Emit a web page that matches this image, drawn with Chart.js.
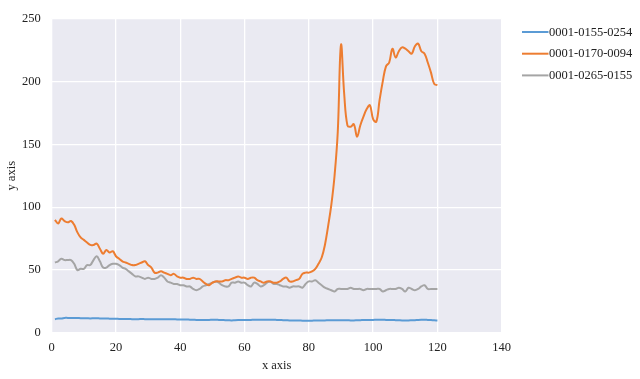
<!DOCTYPE html>
<html>
<head>
<meta charset="utf-8">
<script src="https://cdn.jsdelivr.net/npm/chart.js@4.4.0/dist/chart.umd.min.js"></script>
<style>
  html, body { margin: 0; padding: 0; background: #fff; }
  #wrap { width: 640px; height: 379px; }
</style>
</head>
<body>
<div id="wrap"><canvas id="chart"></canvas></div>
<script>
// --- data ---
const seriesNames = ['0001-0155-0254', '0001-0170-0094', '0001-0265-0155'];
const seriesColors = ['#5B9BD5', '#ED7D31', '#A5A5A5'];

const xValues = Array.from({ length: 120 }, (_, i) => i + 1);

const blueValues = [
  11, 11.5, 11.5, 12, 12, 12, 12, 12, 11.8, 11.8, 11.7, 11.6, 11.7, 11.8, 11.6, 11.5, 11.5, 11.4, 11.3, 11.3,
  11.2, 11.2, 11.1, 11.1, 11.0, 11.0, 11.0, 11.1, 11.0, 11.0, 10.9, 10.9, 11.0, 11.0, 11.0, 11.0, 10.9, 10.9, 10.8, 10.8,
  10.8, 10.7, 10.6, 10.5, 10.4, 10.3, 10.3, 10.4, 10.4, 10.5, 10.5, 10.4, 10.3, 10.2, 10.1, 10.0, 10.2, 10.3, 10.3, 10.3,
  10.3, 10.4, 10.5, 10.5, 10.5, 10.6, 10.6, 10.5, 10.5, 10.4, 10.3, 10.2, 10.1, 10.0, 10.0, 9.9, 9.9, 9.8, 9.8, 9.8,
  9.8, 9.9, 9.9, 10.0, 10.0, 10.1, 10.1, 10.2, 10.2, 10.2, 10.1, 10.1, 10.0, 10.0, 10.1, 10.2, 10.3, 10.4, 10.4, 10.4,
  10.5, 10.5, 10.5, 10.4, 10.3, 10.3, 10.2, 10.1, 10.0, 10.0, 10.0, 10.1, 10.2, 10.4, 10.5, 10.5, 10.4, 10.3, 10.1, 10.0
];

const orangeValues = [
  90, 87, 91, 89, 88, 89, 86, 80, 76, 74, 72, 70, 70, 71, 67, 63, 66, 64, 65, 61,
  59, 57, 56, 55, 54, 54, 55, 56, 57, 54, 52, 48, 48, 49, 48, 47, 46, 47, 45, 44,
  44, 43, 43, 44, 43, 43, 41, 39, 38, 40, 41, 41, 41, 42, 42, 43, 44, 45, 44, 44,
  43, 44, 44, 42, 41, 40, 41, 41, 40, 40, 41, 43, 44, 41, 41, 42, 43, 47, 48, 48,
  49, 51, 55, 60, 70, 85, 102, 125, 160, 229, 190, 165, 164, 166, 156, 165, 172, 178, 181, 170,
  168, 185, 200, 212, 215, 226, 219, 224, 227, 226, 224, 222, 228, 230, 224, 222, 215, 207, 198, 197
];

const grayValues = [
  56, 57, 59, 58, 58, 58, 55, 50, 51, 51, 54, 54, 58, 61, 57, 52, 52, 54, 55, 55,
  54, 52, 51, 49, 47, 45, 45, 44, 43, 44, 43, 43, 44, 46, 44, 41, 40, 39, 39, 38,
  38, 37, 37, 35, 34, 35, 37, 38, 39, 40, 41, 40, 38, 37, 37, 40, 40, 41, 40, 40,
  38, 37, 40, 39, 37, 38, 40, 41, 39, 39, 38, 37, 37, 36, 37, 37, 37, 36, 39, 41,
  41, 42, 40, 38, 36, 35, 34, 33, 35, 35, 35, 35, 36, 35, 35, 35, 34, 35, 35, 35,
  35, 35, 33, 34, 35, 35, 35, 36, 35, 33, 36, 35, 34, 35, 37, 38, 35, 35, 35, 35
];

const xTicks = { min: 0, max: 140, step: 20 };
const yTicks = { min: 0, max: 250, step: 50 };

const allValues = [blueValues, orangeValues, grayValues];

// --- plugins ---
const plotBackground = {
  id: 'plotBackground',
  beforeDraw(chart) {
    const { ctx, chartArea: a } = chart;
    ctx.save();
    ctx.fillStyle = '#EAEAF2';
    ctx.fillRect(a.left, a.top, a.right - a.left, a.bottom - a.top);
    ctx.restore();
  }
};

const sideLegend = {
  id: 'sideLegend',
  afterDraw(chart) {
    const { ctx } = chart;
    ctx.save();
    ctx.font = '12.5px "Liberation Serif", "Times New Roman", serif';
    ctx.textBaseline = 'middle';
    chart.data.datasets.forEach((ds, i) => {
      const y = 32 + i * 21.7;
      ctx.strokeStyle = ds.borderColor;
      ctx.lineWidth = 2;
      ctx.beginPath();
      ctx.moveTo(522, y);
      ctx.lineTo(548.5, y);
      ctx.stroke();
      ctx.fillStyle = '#222';
      ctx.fillText(ds.label, 549, y + 0.5);
    });
    ctx.restore();
  }
};

const serif = { family: '"Liberation Serif", "Times New Roman", serif', size: 12.5 };

new Chart(document.getElementById('chart'), {
  type: 'line',
  data: {
    datasets: seriesNames.map((name, i) => ({
      label: name,
      data: xValues.map((x, j) => ({ x: x, y: allValues[i][j] })),
      borderColor: seriesColors[i],
      backgroundColor: seriesColors[i],
      borderWidth: 2,
      pointRadius: 0,
      tension: 0.4,
      fill: false
    }))
  },
  options: {
    responsive: true,
    maintainAspectRatio: false,
    animation: false,
    layout: { padding: { top: 12, right: 138.3, left: 0, bottom: 0 } },
    plugins: {
      legend: { display: false },
      tooltip: { enabled: false }
    },
    scales: {
      x: {
        type: 'linear',
        min: xTicks.min,
        max: xTicks.max,
        afterFit(scale) { scale.height = 46; },
        ticks: { stepSize: xTicks.step, color: '#222', font: serif, padding: 7, maxRotation: 0 },
        grid: { color: '#ffffff', lineWidth: 1.3, drawTicks: false },
        border: { display: false },
        title: { display: true, text: 'x axis', color: '#222', font: serif, padding: { top: 0, bottom: 6 } }
      },
      y: {
        min: yTicks.min,
        max: yTicks.max,
        afterFit(scale) { scale.width = 51.7; },
        ticks: { stepSize: yTicks.step, color: '#222', font: serif, padding: 11 },
        grid: { color: '#ffffff', lineWidth: 1.3, drawTicks: false },
        border: { display: false },
        title: { display: true, text: 'y axis', color: '#222', font: serif, padding: { top: 4.5, bottom: 0 } }
      }
    }
  },
  plugins: [plotBackground, sideLegend]
});
</script>
</body>
</html>
